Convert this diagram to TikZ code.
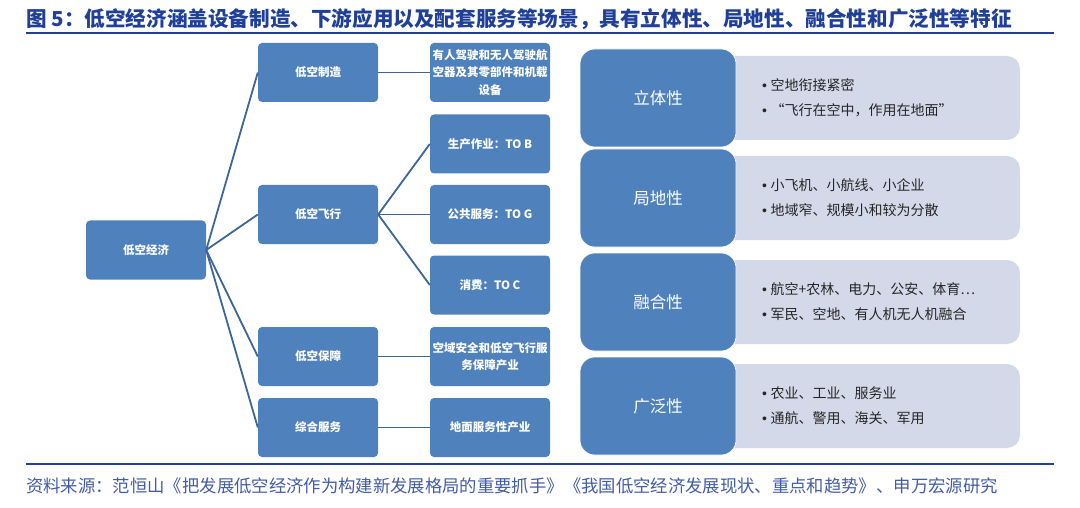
\documentclass[tikz,border=0pt]{standalone}
\usepackage{fontspec}
\setmainfont{Noto Sans CJK SC}
\newfontfamily\latinfont{Liberation Sans}
\newcommand{\dotmark}{{\latinfont •}\hspace{3.5pt}}
\definecolor{boxblue}{HTML}{4F81BD}
\definecolor{linkblue}{HTML}{3C6598}
\definecolor{panelgray}{HTML}{D4D9E9}
\definecolor{titleblue}{HTML}{1F3F99}
\definecolor{notegray}{HTML}{262626}
\tikzset{
  stage/.style={fill=boxblue, rounded corners=4pt, minimum width=120pt, minimum height=59pt,
    text=white, font=\bfseries\fontsize{11.5}{17.5}\selectfont, align=center, inner sep=1pt},
  link/.style={draw=linkblue, line width=1.8pt},
  trait/.style={fill=boxblue, draw=white, line width=0.6pt, rounded corners=15pt, minimum width=156pt,
    minimum height=98pt, text=white, font=\fontsize{16.5}{20}\selectfont},
  panel/.style={fill=panelgray, rounded corners=13pt, minimum width=320pt, minimum height=84pt},
  note/.style={anchor=west, align=left, text=notegray, font=\fontsize{14}{25}\selectfont, inner sep=0pt}
}
\begin{document}
\begin{tikzpicture}[x=1pt,y=-1pt]
  \useasboundingbox (0,0) rectangle (1080,508);
  % title and rules
  \node[anchor=west, inner sep=0pt, text=titleblue, font=\bfseries\fontsize{20.6}{24}\selectfont] (title) at (26,19)
    {图 5：低空经济涵盖设备制造、下游应用以及配套服务等场景，具有立体性、局地性、融合性和广泛性等特征};
  \coordinate (topL) at (26,33);
  \coordinate (topR) at (1054,33);
  \draw[titleblue, line width=1.6pt] (topL) -- (topR);
  \coordinate (botL) at (26,464);
  \coordinate (botR) at (1054,464);
  \draw[titleblue, line width=1.6pt] (botL) -- (botR);
  \node[anchor=west, inner sep=0pt, text=titleblue!85!white, font=\fontsize{17.35}{20}\selectfont] (source) at (26,486)
    {资料来源：范恒山《把发展低空经济作为构建新发展格局的重要抓手》《我国低空经济发展现状、重点和趋势》、申万宏源研究};

  % tree
  \node[stage] (econ) at (146,250) {低空经济};
  \node[stage] (mfg) at (318,72.5) {低空制造};
  \node[stage] (fly) at (318,214.5) {低空飞行};
  \node[stage] (guard) at (318,356.5) {低空保障};
  \node[stage] (serv) at (318,427.5) {综合服务};
  \node[stage] (craft) at (490,72.5) {有人驾驶和无人驾驶航\\空器及其零部件和机载\\设备};
  \node[stage] (tob) at (490,144) {生产作业：TO B};
  \node[stage] (tog) at (490,214.5) {公共服务：TO G};
  \node[stage] (toc) at (490,285) {消费：TO C};
  \node[stage] (safe) at (490,356.5) {空域安全和低空飞行服\\务保障产业};
  \node[stage] (ground) at (490,427.5) {地面服务性产业};
  \foreach \a/\b in {econ/mfg, econ/fly, econ/guard, econ/serv, mfg/craft, fly/tob, fly/tog, fly/toc, guard/safe, serv/ground}
    \draw[link] (\a.east) -- (\b.west);

  % traits
  \foreach \i/\y/\name/\first/\second in {
      1/98/立体性/空地衔接紧密/“飞行在空中，作用在地面”,
      2/198/局地性/小飞机、小航线、小企业/地域窄、规模小和较为分散,
      3/302/融合性/航空+农林、电力、公安、体育…/军民、空地、有人机无人机融合,
      4/406/广泛性/农业、工业、服务业/通航、警用、海关、军用} {
    \node[panel] (panel\i) at (860,\y) {};
    \node[trait] (trait\i) at (658,\y) {\name};
    \node[note] (note\i) at (762,\y) {\dotmark\first\\\dotmark\second};
  }
\end{tikzpicture}
\end{document}
